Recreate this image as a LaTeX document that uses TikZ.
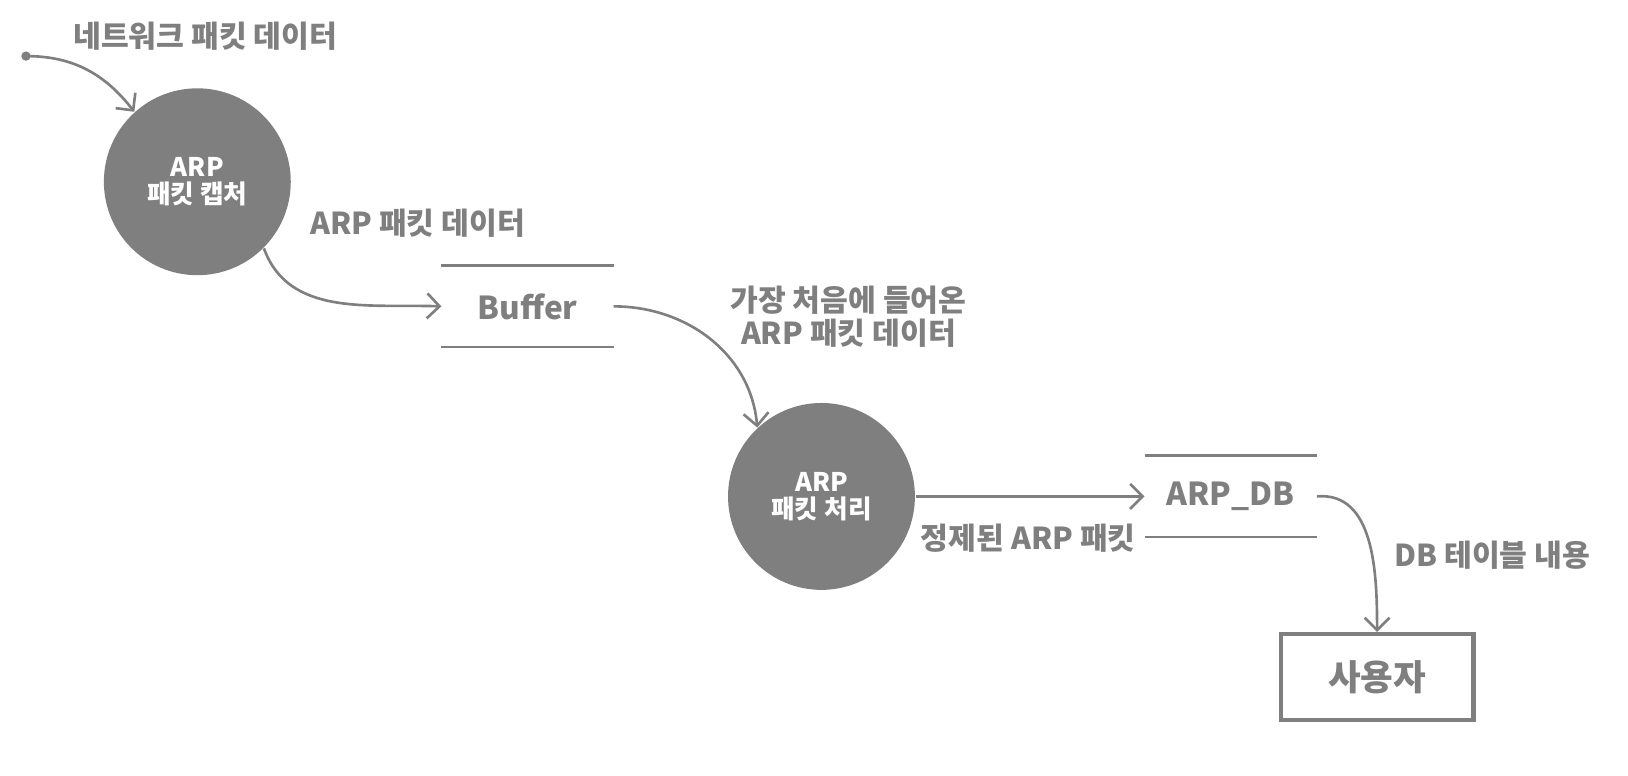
\documentclass[tikz,border=0pt]{standalone}
\usepackage{fontspec}
\setmainfont{Noto Sans CJK KR}
\usetikzlibrary{arrows.meta}
\definecolor{dfdgray}{HTML}{7F7F7F}
\tikzset{proc/.style={circle,fill=dfdgray,text=white,minimum size=1.87cm,inner sep=0pt,align=center,
   font=\bfseries\fontsize{7.3}{7.8}\selectfont},
 datastore/.style={minimum width=1.71cm,minimum height=0.8cm,inner sep=0pt,text=dfdgray,
   font=\bfseries\fontsize{9}{11}\selectfont},
 extern/.style={draw=dfdgray,line width=1.2pt,minimum width=1.93cm,minimum height=0.86cm,text=dfdgray,
   font=\bfseries\fontsize{10.1}{12}\selectfont},
 flowlabel/.style={text=dfdgray,inner sep=0pt,font=\bfseries\fontsize{8.6}{9.6}\selectfont},
 flow/.style={draw=dfdgray,line width=0.75pt,-{Straight Barb[length=1.25mm,width=2.5mm]}},
 storeline/.style={draw=dfdgray,line width=0.75pt},
 }

\begin{document}
\begin{tikzpicture}[x=0.010385cm,y=-0.010385cm]
        \useasboundingbox (0,0) rectangle (1567.6,747.2);
        % processes and stores
        \node [proc] (capture) at (190,175) {ARP\\패킷 캡처};
        \node [proc] (handle) at (791,478) {ARP\\패킷 처리};
        \node [datastore] (buffer) at (508,295) {Buffer};
        \node [datastore] (arpdb) at (1185,478) {ARP\_DB};
        \node [extern] (user) at (1326,652) {사용자};
        \draw [storeline] (buffer.north west) -- (buffer.north east);
        \draw [storeline] (buffer.south west) -- (buffer.south east);
        \draw [storeline] (arpdb.north west) -- (arpdb.north east);
        \draw [storeline] (arpdb.south west) -- (arpdb.south east);
        % flows
        \fill [dfdgray] (25,54) circle (4.5) coordinate (src);
        \draw [flow] (src) to[out=0,in=128] (capture.132);
        \draw [flow] (capture.-45) to[out=-70,in=178] (buffer.west);
        \draw [flow] (buffer.east) to[out=0,in=95] (handle.133);
        \draw [flow] (handle.east) -- (arpdb.west);
        \draw [flow] (arpdb.east) to[out=5,in=90] (user.north);
        % labels
        \node [flowlabel,anchor=west] (lblnet) at (70,35) {네트워크 패킷 데이터};
        \node [flowlabel,anchor=west] (lblarp) at (298,215) {ARP 패킷 데이터};
        \node [flowlabel,align=center] (lblfirst) at (817,305) {가장 처음에 들어온\\ARP 패킷 데이터};
        \node [flowlabel,anchor=west] (lblclean) at (886,518) {정제된 ARP 패킷};
        \node [flowlabel,anchor=west] (lbltable) at (1342,535) {DB 테이블 내용};
\end{tikzpicture}
\end{document}
